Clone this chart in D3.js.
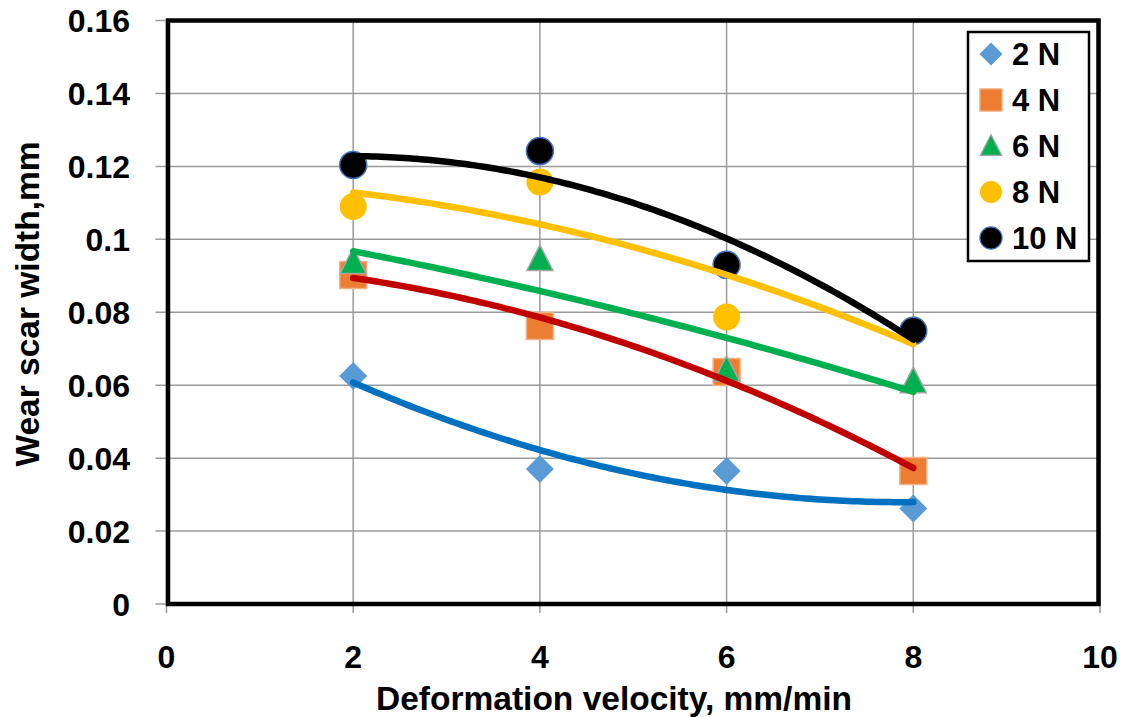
<!DOCTYPE html>
<html>
<head>
<meta charset="utf-8">
<script src="https://cdn.jsdelivr.net/npm/d3@7"></script>
<style>
  body { margin: 0; background: #fff; }
  svg { display: block; font-family: "Liberation Sans", Arial, sans-serif; font-weight: bold; }
</style>
</head>
<body>
<div id="page"></div>
<script>
// data
const velocity = [2, 4, 6, 8];
const load2N  = [0.0625, 0.0370, 0.0365, 0.0262];
const load4N  = [0.0902, 0.0762, 0.0636, 0.0365];
const load6N  = [0.0938, 0.0946, 0.0642, 0.0611];
const load8N  = [0.1090, 0.1157, 0.0787, 0.0751];
const load10N = [0.1204, 0.1242, 0.0930, 0.0749];
const seriesNames = ['2 N', '4 N', '6 N', '8 N', '10 N'];
const xTicks = [0, 2, 4, 6, 8, 10];
const yTicks = [0, 0.02, 0.04, 0.06, 0.08, 0.1, 0.12, 0.14, 0.16];

const series = [
  { name: seriesNames[0], values: load2N,  shape: 'diamond',  fill: '#5B9BD5', stroke: 'none',    trend: '#0070C0' },
  { name: seriesNames[1], values: load4N,  shape: 'square',   fill: '#ED7D31', stroke: '#F4B183', trend: '#C00000' },
  { name: seriesNames[2], values: load6N,  shape: 'triangle', fill: '#00B050', stroke: '#A5A5A5', trend: '#00B050' },
  { name: seriesNames[3], values: load8N,  shape: 'circle',   fill: '#FFC000', stroke: 'none',    trend: '#FFC000' },
  { name: seriesNames[4], values: load10N, shape: 'circle',   fill: '#000000', stroke: '#4472C4', trend: '#000000' }
];

const width = 1126;
const height = 717;
const margin = { left: 166.5, right: 26, top: 20.5, bottom: 113 };

const x = d3.scaleLinear().domain([0, 10]).range([margin.left, width - margin.right]);
const y = d3.scaleLinear().domain([0, 0.16]).range([height - margin.bottom, margin.top]);

// 2nd order polynomial least squares (like the spreadsheet trendline)
function quadFit(xs, ys) {
  let s = [0, 0, 0, 0, 0], t = [0, 0, 0];
  xs.forEach((xv, i) => {
    for (let k = 0; k < 5; k++) s[k] += Math.pow(xv, k);
    for (let k = 0; k < 3; k++) t[k] += Math.pow(xv, k) * ys[i];
  });
  const A = [[s[0], s[1], s[2], t[0]], [s[1], s[2], s[3], t[1]], [s[2], s[3], s[4], t[2]]];
  for (let i = 0; i < 3; i++) {
    for (let j = i + 1; j < 3; j++) {
      const f = A[j][i] / A[i][i];
      for (let k = i; k < 4; k++) A[j][k] -= f * A[i][k];
    }
  }
  const c = [0, 0, 0];
  for (let i = 2; i >= 0; i--) {
    let v = A[i][3];
    for (let k = i + 1; k < 3; k++) v -= A[i][k] * c[k];
    c[i] = v / A[i][i];
  }
  return xv => c[0] + c[1] * xv + c[2] * xv * xv;
}

function shapePath(shape) {
  if (shape === 'diamond') return 'M0,-14L14,0L0,14L-14,0Z';
  if (shape === 'square') return 'M-13.5,-13.5H13.5V13.5H-13.5Z';
  if (shape === 'triangle') return 'M0,-14L13,11.5H-13Z';
  return d3.symbol(d3.symbolCircle, Math.PI * 13.5 * 13.5)();
}

const svg = d3.select('#page')
              .append('svg')
              .attr('width', width)
              .attr('height', height);

// gridlines
svg.append('g')
   .selectAll('line')
   .data(yTicks)
   .enter()
   .append('line')
   .attr('x1', x(0) - 11)
   .attr('x2', x(10))
   .attr('y1', d => y(d))
   .attr('y2', d => y(d))
   .attr('stroke', '#9a9a9a')
   .attr('stroke-width', 1.5);

svg.append('g')
   .selectAll('line')
   .data(xTicks)
   .enter()
   .append('line')
   .attr('x1', d => x(d))
   .attr('x2', d => x(d))
   .attr('y1', y(0.16))
   .attr('y2', y(0) + 9)
   .attr('stroke', '#9a9a9a')
   .attr('stroke-width', 1.5);

// plot border
svg.append('rect')
   .attr('x', x(0) + 1.5)
   .attr('y', y(0.16))
   .attr('width', x(10) - x(0) - 3)
   .attr('height', y(0) - y(0.16))
   .attr('fill', 'none')
   .attr('stroke', '#000')
   .attr('stroke-width', 4.5);

// tick labels
svg.append('g')
   .selectAll('text')
   .data(yTicks)
   .enter()
   .append('text')
   .attr('x', 130)
   .attr('y', d => y(d))
   .attr('dy', '0.36em')
   .attr('text-anchor', 'end')
   .style('font-size', '32px')
   .text(d => d === 0 ? '0' : String(+d.toFixed(2)));

svg.append('g')
   .selectAll('text')
   .data(xTicks)
   .enter()
   .append('text')
   .attr('x', d => x(d))
   .attr('y', 668)
   .attr('text-anchor', 'middle')
   .style('font-size', '32px')
   .text(d => d);

// axis titles
svg.append('text')
   .attr('x', 614)
   .attr('y', 710)
   .attr('text-anchor', 'middle')
   .style('font-size', '33.5px')
   .text('Deformation velocity, mm/min');

svg.append('text')
   .attr('transform', 'translate(39,304) rotate(-90)')
   .attr('text-anchor', 'middle')
   .style('font-size', '33.5px')
   .text('Wear scar width,mm');

// markers
series.forEach(s => {
  svg.append('g')
     .selectAll('path')
     .data(s.values)
     .enter()
     .append('path')
     .attr('transform', (d, i) => `translate(${x(velocity[i])},${y(d)})`)
     .attr('d', shapePath(s.shape))
     .attr('fill', s.fill)
     .attr('stroke', s.stroke)
     .attr('stroke-width', 1.5);
});

// trendlines
const line = d3.line().x(d => x(d[0])).y(d => y(d[1]));
series.forEach(s => {
  const f = quadFit(velocity, s.values);
  const pts = d3.range(2, 8.001, 0.05).map(v => [v, f(v)]);
  svg.append('path')
     .attr('d', line(pts))
     .attr('fill', 'none')
     .attr('stroke', s.trend)
     .attr('stroke-width', 6.5)
     .attr('stroke-linecap', 'round');
});

// legend
const legend = svg.append('g');
legend.append('rect')
      .attr('x', 968)
      .attr('y', 32)
      .attr('width', 121)
      .attr('height', 229)
      .attr('fill', '#fff')
      .attr('stroke', '#000')
      .attr('stroke-width', 2.5);

const lg = legend.selectAll('g')
                 .data(series)
                 .enter()
                 .append('g')
                 .attr('transform', (d, i) => `translate(991, ${54 + i * 46})`);

lg.append('path')
  .attr('d', d => shapePath(d.shape))
  .attr('transform', 'scale(0.82)')
  .attr('fill', d => d.fill)
  .attr('stroke', d => d.stroke)
  .attr('stroke-width', 1.5);

lg.append('text')
  .attr('x', 21)
  .attr('dy', '0.36em')
  .style('font-size', '31px')
  .text(d => d.name);
</script>
</body>
</html>
